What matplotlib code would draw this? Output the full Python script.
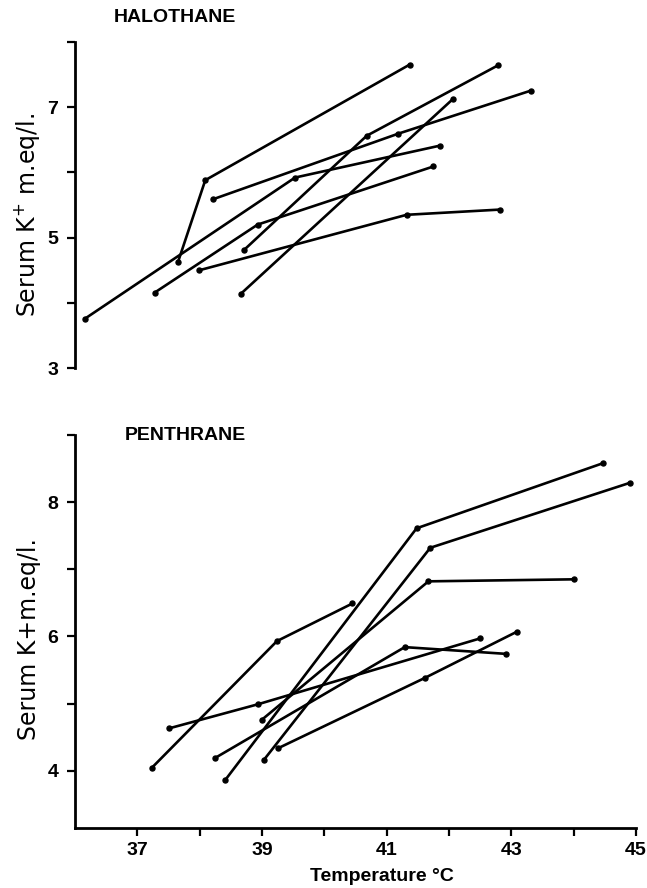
import matplotlib
matplotlib.use("Agg")
import matplotlib.pyplot as plt

# halothane group: temperature (deg C) and serum K+ (m.eq/l) per animal
hal_temp = [
    [36.16, 39.53, 41.86],
    [37.65, 38.09, 41.37],
    [38.22, 41.18, 43.31],
    [38.71, 40.68, 42.79],
    [37.99, 41.32, 42.82],
    [37.28, 38.93, 41.75],
    [38.66, 42.06],
]
hal_k = [
    [3.76, 5.92, 6.41],
    [4.62, 5.88, 7.65],
    [5.59, 6.59, 7.25],
    [4.81, 6.56, 7.64],
    [4.50, 5.35, 5.43],
    [4.16, 5.20, 6.09],
    [4.14, 7.12],
]

# penthrane group
pen_temp = [
    [37.23, 39.24, 40.45],
    [37.51, 38.94, 42.50],
    [39.00, 41.67, 44.00],
    [38.25, 41.29, 42.91],
    [39.25, 41.61, 43.09],
    [38.41, 41.48, 44.47],
    [39.03, 41.70, 44.91],
]
pen_k = [
    [4.04, 5.93, 6.49],
    [4.63, 4.99, 5.97],
    [4.76, 6.82, 6.85],
    [4.19, 5.84, 5.74],
    [4.33, 5.38, 6.07],
    [3.86, 7.61, 8.58],
    [4.16, 7.32, 8.29],
]

x_major = [37, 39, 41, 43, 45]
x_minor = [38, 40, 42, 44]
hal_major = [3, 5, 7]
hal_minor = [4, 6, 8]
pen_major = [4, 6, 8]
pen_minor = [5, 7, 9]

LAB = dict(family=["Liberation Sans", "DejaVu Sans"], weight="bold")
W = 647 / 100
H = 888 / 100

fig = plt.figure(figsize=(W, H), dpi=100)
ax1 = fig.add_axes([75 / 647, 1 - 368.3 / 888, 561 / 647, 326.6 / 888])
ax2 = fig.add_axes([75 / 647, 1 - 827.7 / 888, 561 / 647, 392.7 / 888])


def style(ax, ymin, ymax, major, minor, show_x):
    ax.set_xlim(36, 45)
    ax.set_ylim(ymin, ymax)
    for s in ["top", "right"]:
        ax.spines[s].set_visible(False)
    ax.spines["left"].set_linewidth(2.0)
    ax.spines["bottom"].set_linewidth(2.0)
    ax.set_yticks(major)
    ax.set_yticks(minor, minor=True)
    ax.tick_params(axis="y", which="both", direction="out", length=6, width=1.6, pad=6)
    for t in ax.get_yticklabels():
        t.set(**LAB, fontsize=14)
    if show_x:
        ax.set_xticks(x_major)
        ax.set_xticks(x_minor, minor=True)
        ax.tick_params(axis="x", which="both", direction="out", length=6, width=1.6, pad=4)
        for t in ax.get_xticklabels():
            t.set(**LAB, fontsize=14)
    else:
        ax.spines["bottom"].set_visible(False)
        ax.set_xticks([])
    ax.patch.set_visible(False)


def draw(ax, temps, ks):
    for t, k in zip(temps, ks):
        ax.plot(t, k, color="black", lw=1.9, marker="o", ms=3.6, clip_on=False,
                solid_joinstyle="round", solid_capstyle="round")


style(ax1, 3, 8, hal_major, hal_minor, False)
style(ax2, 3.15, 9, pen_major, pen_minor, True)
draw(ax1, hal_temp, hal_k)
draw(ax2, pen_temp, pen_k)

fig.text(175 / 647, 1 - 17.5 / 888, "HALOTHANE", ha="center", va="center", fontsize=14, **LAB)
fig.text(185 / 647, 1 - 435.5 / 888, "PENTHRANE", ha="center", va="center", fontsize=14, **LAB)
fig.text(382 / 647, 1 - 876 / 888, "Temperature \u00b0C", ha="center", va="center", fontsize=14, **LAB)

fig.text(27 / 647, 1 - 215 / 888, "Serum K$^{+}$ m.eq/l.", rotation=90, ha="center", va="center",
         fontsize=17, family="DejaVu Sans")
fig.text(29 / 647, 1 - 639 / 888, "Serum K+m.eq/l.", rotation=90, ha="center", va="center",
         fontsize=17, family="DejaVu Sans")

fig.savefig("out.png", dpi=100)
